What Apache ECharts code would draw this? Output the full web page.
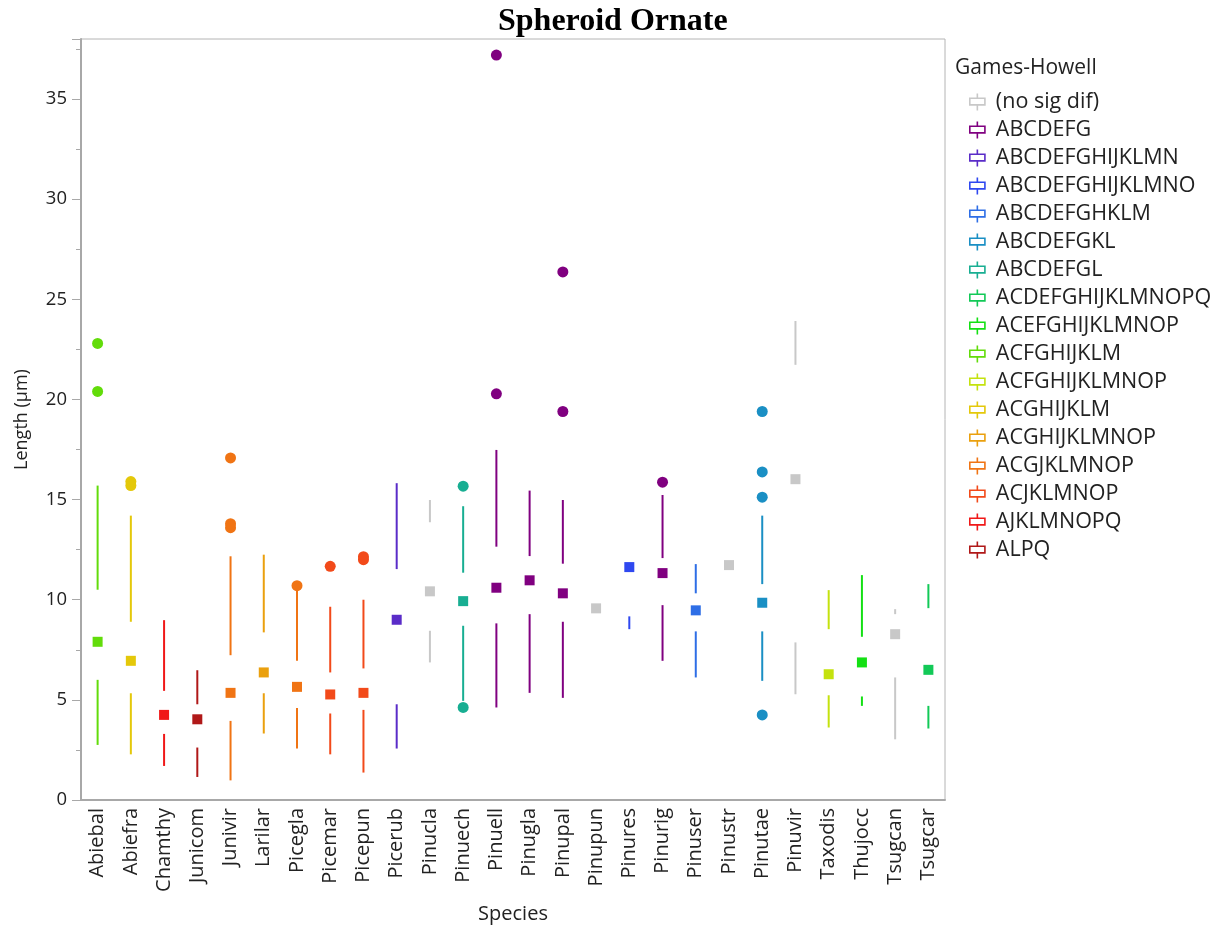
<!DOCTYPE html>
<html><head><meta charset="utf-8">
<script src="https://cdn.jsdelivr.net/npm/echarts@6/dist/echarts.min.js"></script>
<style>html,body{margin:0;padding:0;background:#fff}#c{width:1225px;height:932px}</style>
</head><body><div id="c"></div>
<script>
const categories = ["Abiebal","Abiefra","Chamthy","Junicom","Junivir","Larilar","Picegla","Picemar","Picepun","Picerub","Pinucla","Pinuech","Pinuell","Pinugla","Pinupal","Pinupun","Pinures","Pinurig","Pinuser","Pinustr","Pinutae","Pinuvir","Taxodis","Thujocc","Tsugcan","Tsugcar"];
const groups = ["(no sig dif)","ABCDEFG","ABCDEFGHIJKLMN","ABCDEFGHIJKLMNO","ABCDEFGHKLM","ABCDEFGKL","ABCDEFGL","ACDEFGHIJKLMNOPQ","ACEFGHIJKLMNOP","ACFGHIJKLM","ACFGHIJKLMNOP","ACGHIJKLM","ACGHIJKLMNOP","ACGJKLMNOP","ACJKLMNOP","AJKLMNOPQ","ALPQ"];
const groupColors = ["#c8c8c8","#800080","#5a2cc8","#2f48f0","#2e6ee6","#1a8fc4","#18ae92","#12c957","#14e014","#62dc0a","#c4e20e","#e4c80a","#eaa00e","#f07414","#f24a1a","#f01818","#b01818"];
const categoryGroup = ["ACFGHIJKLM","ACGHIJKLM","AJKLMNOPQ","ALPQ","ACGJKLMNOP","ACGHIJKLMNOP","ACGJKLMNOP","ACJKLMNOP","ACJKLMNOP","ABCDEFGHIJKLMN","(no sig dif)","ABCDEFGL","ABCDEFG","ABCDEFG","ABCDEFG","(no sig dif)","ABCDEFGHIJKLMNO","ABCDEFG","ABCDEFGHKLM","(no sig dif)","ABCDEFGKL","(no sig dif)","ACFGHIJKLMNOP","ACEFGHIJKLMNOP","(no sig dif)","ACDEFGHIJKLMNOPQ"];
const whiskerLow  = [2.75,2.28,1.7,1.15,0.98,3.32,2.57,2.28,1.37,2.57,6.87,4.95,4.62,5.35,5.1,null,8.53,6.95,6.12,null,5.95,5.28,3.62,4.7,3.03,3.57];
const quart1      = [6.0,5.33,3.3,2.62,3.95,5.33,4.6,4.32,4.5,4.78,8.45,8.7,8.82,9.28,8.9,null,9.17,9.73,8.42,null,8.42,7.87,5.23,5.17,6.12,4.7];
const medians     = [7.9,6.95,4.25,4.03,5.35,6.37,5.65,5.27,5.35,9.0,10.42,9.93,10.6,10.97,10.32,9.57,11.63,11.33,9.47,11.73,9.85,16.02,6.28,6.87,8.28,6.5];
const quart3      = [10.5,8.9,5.45,4.78,7.23,8.37,6.95,6.37,6.57,11.53,13.87,11.35,12.65,12.18,11.8,null,null,12.08,10.32,null,10.78,21.73,8.53,8.15,9.28,9.58];
const whiskerHigh = [15.7,14.2,8.98,6.48,12.17,12.25,10.45,9.65,10.0,15.82,14.98,14.67,17.48,15.45,14.98,null,null,15.23,11.78,null,14.2,23.92,10.48,11.23,9.53,10.78];
const outlierSpecies = ["Abiebal","Abiebal","Abiefra","Abiefra","Junivir","Junivir","Junivir","Picegla","Picemar","Picepun","Picepun","Pinuech","Pinuech","Pinuell","Pinuell","Pinupal","Pinupal","Pinurig","Pinutae","Pinutae","Pinutae","Pinutae"];
const outlierValues  = [20.4,22.8,15.7,15.9,13.6,13.8,17.08,10.7,11.67,12.0,12.15,4.62,15.67,20.28,37.2,19.4,26.37,15.87,4.25,15.12,16.38,19.4];
const yTicks = [0,5,10,15,20,25,30,35];

const FONT = "'Open Sans', 'Noto Sans', sans-serif";
const series = [];
groups.forEach((g, gi) => {
  const col = groupColors[gi];
  const lineData = [], medData = [], outData = [];
  categories.forEach((c, ci) => {
    if (categoryGroup[ci] !== g) return;
    lineData.push([ci, whiskerLow[ci], quart1[ci], quart3[ci], whiskerHigh[ci]]);
    medData.push([ci, medians[ci]]);
  });
  outlierSpecies.forEach((s, k) => {
    const ci = categories.indexOf(s);
    if (categoryGroup[ci] === g) outData.push([ci, outlierValues[k]]);
  });
  series.push({
    type: 'custom', name: g, data: lineData, itemStyle: {color: col},
    encode: {x: 0, y: [1,2,3,4]},
    renderItem: function (params, api) {
      const x = api.value(0);
      const children = [];
      const lo = api.value(1), a = api.value(2), b = api.value(3), hi = api.value(4);
      const segs = [];
      if (!isNaN(lo) && !isNaN(a) && lo !== a) segs.push([lo, a]);
      if (!isNaN(b) && !isNaN(hi) && b !== hi) segs.push([b, hi]);
      segs.forEach(s => {
        const p1 = api.coord([x, s[0]]), p2 = api.coord([x, s[1]]);
        children.push({type: 'line', shape: {x1: p1[0], y1: p1[1], x2: p2[0], y2: p2[1]},
          style: {stroke: col, lineWidth: 2}});
      });
      return {type: 'group', children: children};
    }
  });
  series.push({type: 'scatter', name: g, data: medData, symbol: 'rect', symbolSize: 10,
    itemStyle: {color: col, opacity: 1}, z: 3});
  if (outData.length) series.push({type: 'scatter', name: g, data: outData, symbol: 'circle',
    symbolSize: 11, itemStyle: {color: col, opacity: 1}, z: 3});
});

const iconPath = 'path://M9,0 L9,5 M1,5 L17,5 L17,12 L1,12 Z M9,12 L9,18';
const option = {
  animation: false,
  backgroundColor: '#fff',
  title: [
    {text: 'Spheroid Ornate', left: 493, top: 1,
     textStyle: {fontFamily: "'Liberation Serif', 'Times New Roman', serif", fontWeight: 'bold', fontSize: 32, color: '#000'}},
    {text: 'Games-Howell', left: 950, top: 53,
     textStyle: {fontFamily: FONT, fontWeight: 'normal', fontSize: 21, color: '#222'}}
  ],
  legend: {
    orient: 'vertical', left: 964, top: 86, itemGap: 6, itemWidth: 19, itemHeight: 17,
    icon: iconPath,
    textStyle: {fontFamily: FONT, fontSize: 21.5, lineHeight: 22, color: '#222', padding: [0, 0, 0, 4]},
    data: groups.map((g, gi) => ({name: g, icon: iconPath,
      itemStyle: {color: 'rgba(0,0,0,0)', borderColor: groupColors[gi], borderWidth: 1.6}}))
  },
  grid: {left: 81, right: 280, top: 39, bottom: 132, show: true, borderColor: '#b4b4b4', borderWidth: 1},
  xAxis: {
    type: 'category', data: categories, boundaryGap: true,
    name: 'Species', nameLocation: 'middle', nameGap: 104,
    nameTextStyle: {fontFamily: FONT, fontSize: 20, color: '#222'},
    axisLine: {lineStyle: {color: '#a8a8a8', width: 2}},
    axisTick: {show: false},
    axisLabel: {rotate: 90, interval: 0, fontFamily: FONT, fontSize: 20, color: '#222', margin: 8}
  },
  yAxis: {
    type: 'value', min: 0, max: 38, interval: 5,
    name: 'Length (µm)', nameLocation: 'middle', nameGap: 50,
    nameTextStyle: {fontFamily: FONT, fontSize: 18, color: '#222'},
    axisLine: {show: true, lineStyle: {color: '#a8a8a8', width: 2}},
    axisTick: {show: true, length: 9, lineStyle: {color: '#a8a8a8'}},
    minorTick: {show: true, splitNumber: 2, length: 5, lineStyle: {color: '#a8a8a8'}},
    splitLine: {show: false},
    axisLabel: {fontFamily: FONT, fontSize: 18.5, color: '#222', margin: 14,
      formatter: v => (yTicks.indexOf(v) >= 0 ? String(v) : '')}
  },
  series: series
};
const chart = echarts.init(document.getElementById('c'), null, {renderer: 'canvas'});
chart.setOption(option);
</script></body></html>
